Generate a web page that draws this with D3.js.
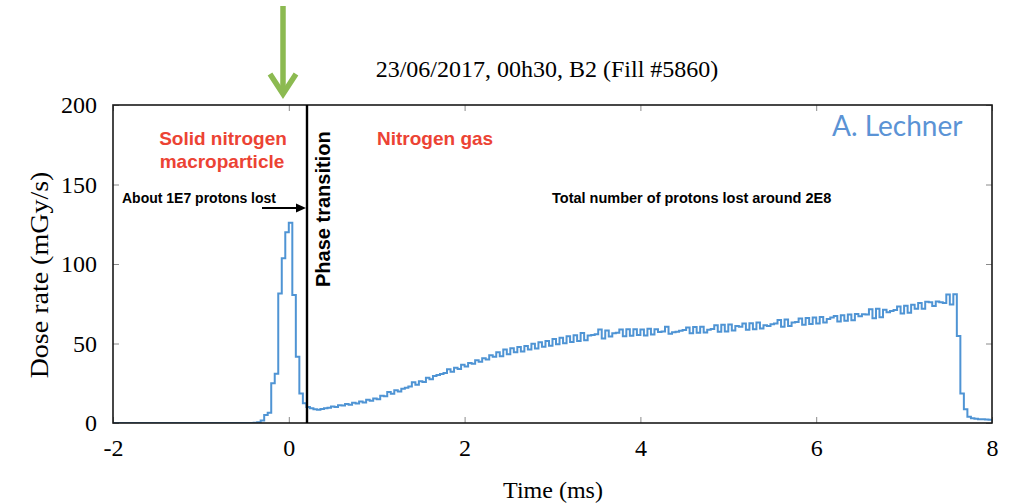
<!DOCTYPE html>
<html><head><meta charset="utf-8">
<script src="https://cdn.jsdelivr.net/npm/d3@7"></script>
<style>
html,body{margin:0;padding:0;background:#fff;}
svg{display:block;}
</style>
</head><body>
<svg id="chart" width="1010" height="503"></svg>
<script>
// ---- data ----
const binStart = -2;          // ms, first bin edge
const binWidth = 0.04;        // ms
const xTicks = [-2, 0, 2, 4, 6, 8];
const yTicks = [0, 50, 100, 150, 200];
const phaseTransitionTime = 0.207; // ms
// dose rate per bin (mGy/s), 250 bins from -2 ms to 8 ms
const doseRate = [
  0,0,0,0,0,0,0,0,0,0, 0,0,0,0,0,0,0,0,0,0,
  0,0,0,0,0,0,0,0,0,0, 0,0,0,0,0,0,0,0,0,0,
  0.2,0.5,1.5,5,6.5,25,31,81.5,103.6,120,
  126,80.5,41.7,18.6,12.4,10,9.2,8.6,8.4,8.8,
  9.3,9.6,10.4,10.1,11.2,11.0,12.0,11.4,12.8,12.2,
  13.6,12.9,14.6,14.0,15.4,15.0,17.2,16.8,19.5,18.4,
  20.6,19.8,21.5,22.2,23.0,25.6,24.0,26.2,25.8,28.4,
  27.5,29.6,30.2,30.8,31.4,33.8,32.2,34.8,34.0,36.6,
  35.5,37.8,37.2,39.5,38.6,40.8,39.9,42.6,41.6,44.5,
  42.0,46.2,43.2,47.0,44.5,47.8,45.0,48.5,46.2,49.8,
  46.8,50.8,48.0,51.5,48.6,52.8,49.5,53.6,50.2,54.5,
  51.0,55.2,51.5,56.6,52.0,55.0,55.4,55.8,58.8,53.2,
  58.2,54.4,56.4,56.8,58.8,54.6,59.0,54.8,58.9,55.3,
  58.8,55.0,59.2,55.6,59.0,57.2,57.6,60.6,56.2,57.0,
  57.4,58.0,58.5,60.0,56.4,60.4,56.8,60.6,56.9,58.7,
  59.1,61.4,57.4,61.8,57.6,62.0,58.2,61.0,60.6,62.6,
  58.6,62.8,59.0,63.2,59.4,61.4,61.0,62.1,62.6,64.8,
  60.6,65.1,61.0,63.2,63.6,65.8,61.8,66.1,62.2,66.4,
  62.6,66.6,63.2,65.4,66.3,67.3,63.9,67.8,64.3,68.2,
  64.7,68.6,67.2,68.4,68.2,71.6,65.9,71.9,66.5,71.2,
  69.6,70.4,71.0,73.2,68.8,73.7,69.4,74.4,71.8,75.4,
  71.9,76.2,76.0,73.6,76.4,75.9,75.5,80.8,74.5,81.0,
  54.7,18.6,8.6,4.0,3.0,2.6,2.4,2.3,2.2,2.1
];

// ---- layout ----
const svg = d3.select("#chart");
const L = 113, R = 992, T = 105, B = 423;
const x = d3.scaleLinear().domain([-2, 8]).range([L, R]);
const y = d3.scaleLinear().domain([0, 200]).range([B, T]);
const serif = "'Liberation Serif','Times New Roman',serif";
const sans = "'Liberation Sans',Arial,Helvetica,sans-serif";

// clip
svg.append("defs").append("clipPath").attr("id","plotclip")
  .append("rect").attr("x",L).attr("y",T).attr("width",R-L).attr("height",B-T);

// axes (inward ticks, mirrored)
function styleAxis(g){
  g.select(".domain").remove();
  g.selectAll(".tick line").attr("stroke","#8a8a8a").attr("stroke-width",1);
  g.selectAll(".tick text").attr("font-family",serif).attr("font-size",24).attr("fill","#000");
}
const fmt = d => String(d);
svg.append("g").attr("transform",`translate(0,${B})`)
  .call(d3.axisBottom(x).tickValues(xTicks).tickSizeInner(-6).tickSizeOuter(0).tickPadding(16).tickFormat(fmt))
  .call(styleAxis);
svg.append("g").attr("transform",`translate(0,${T})`)
  .call(d3.axisTop(x).tickValues(xTicks).tickSizeInner(-6).tickSizeOuter(0).tickFormat(""))
  .call(styleAxis);
svg.append("g").attr("transform",`translate(${L},0)`)
  .call(d3.axisLeft(y).tickValues(yTicks).tickSizeInner(-6).tickSizeOuter(0).tickPadding(16).tickFormat(fmt))
  .call(styleAxis);
svg.append("g").attr("transform",`translate(${R},0)`)
  .call(d3.axisRight(y).tickValues(yTicks).tickSizeInner(-6).tickSizeOuter(0).tickFormat(""))
  .call(styleAxis);

// histogram line
const pts = doseRate.map((v,i)=>[binStart + i*binWidth, v]);
pts.push([binStart + doseRate.length*binWidth, doseRate[doseRate.length-1]]);
const line = d3.line().x(d=>x(d[0])).y(d=>y(d[1])).curve(d3.curveStepAfter);
svg.append("path").datum(pts)
  .attr("clip-path","url(#plotclip)")
  .attr("d",line).attr("fill","none").attr("stroke","#4f94d4").attr("stroke-width",2);

// frame
svg.append("rect").attr("x",L).attr("y",T).attr("width",R-L).attr("height",B-T)
  .attr("fill","none").attr("stroke","#1a1a1a").attr("stroke-width",1.6);

// phase transition line
svg.append("line").attr("x1",x(phaseTransitionTime)).attr("x2",x(phaseTransitionTime))
  .attr("y1",T).attr("y2",B).attr("stroke","#000").attr("stroke-width",2.4);

// title
svg.append("text").attr("x",547).attr("y",77).attr("text-anchor","middle")
  .attr("font-family",serif).attr("font-size",24).attr("fill","#000")
  .text("23/06/2017, 00h30, B2 (Fill #5860)");

// axis titles
svg.append("text").attr("x",553).attr("y",498).attr("text-anchor","middle")
  .attr("font-family",serif).attr("font-size",24).attr("fill","#000").text("Time (ms)");
svg.append("text").attr("transform","translate(48,275) rotate(-90) scale(1.12,1)").attr("text-anchor","middle")
  .attr("font-family",serif).attr("font-size",25).attr("fill","#000").text("Dose rate (mGy/s)");

// annotations
const red = "#ec4334";
svg.append("text").attr("x",223).attr("y",145).attr("text-anchor","middle")
  .attr("font-family",sans).attr("font-weight","bold").attr("font-size",19).attr("fill",red).text("Solid nitrogen");
svg.append("text").attr("x",222).attr("y",168).attr("text-anchor","middle")
  .attr("font-family",sans).attr("font-weight","bold").attr("font-size",19).attr("fill",red).text("macroparticle");
svg.append("text").attr("x",377).attr("y",145)
  .attr("font-family",sans).attr("font-weight","bold").attr("font-size",19).attr("fill",red).text("Nitrogen gas");
svg.append("text").attr("x",122).attr("y",203)
  .attr("font-family",sans).attr("font-weight","bold").attr("font-size",14).attr("fill","#000").text("About 1E7 protons lost");
svg.append("text").attr("x",552).attr("y",203)
  .attr("font-family",sans).attr("font-weight","bold").attr("font-size",14.5).attr("fill","#000").text("Total number of protons lost around 2E8");
svg.append("text").attr("transform","translate(330,287) rotate(-90)")
  .attr("font-family",sans).attr("font-weight","bold").attr("font-size",20).attr("fill","#000").text("Phase transition");
svg.append("text").attr("x",832).attr("y",136)
  .attr("font-family","Lato,'Open Sans',sans-serif").attr("font-size",28).attr("fill","#5b93d5").text("A. Lechner");

// black arrow
svg.append("line").attr("x1",262).attr("y1",208).attr("x2",299).attr("y2",208)
  .attr("stroke","#000").attr("stroke-width",2);
svg.append("path").attr("d","M306,208 L296,203.5 L296,212.5 Z").attr("fill","#000");

// green arrow
const green = "#8cba51";
svg.append("line").attr("x1",283).attr("y1",6).attr("x2",283).attr("y2",93)
  .attr("stroke",green).attr("stroke-width",5.5);
svg.append("path").attr("d","M270,74 L283,94 L296,74").attr("fill","none")
  .attr("stroke",green).attr("stroke-width",5.5).attr("stroke-linejoin","miter");
</script>
</body></html>
